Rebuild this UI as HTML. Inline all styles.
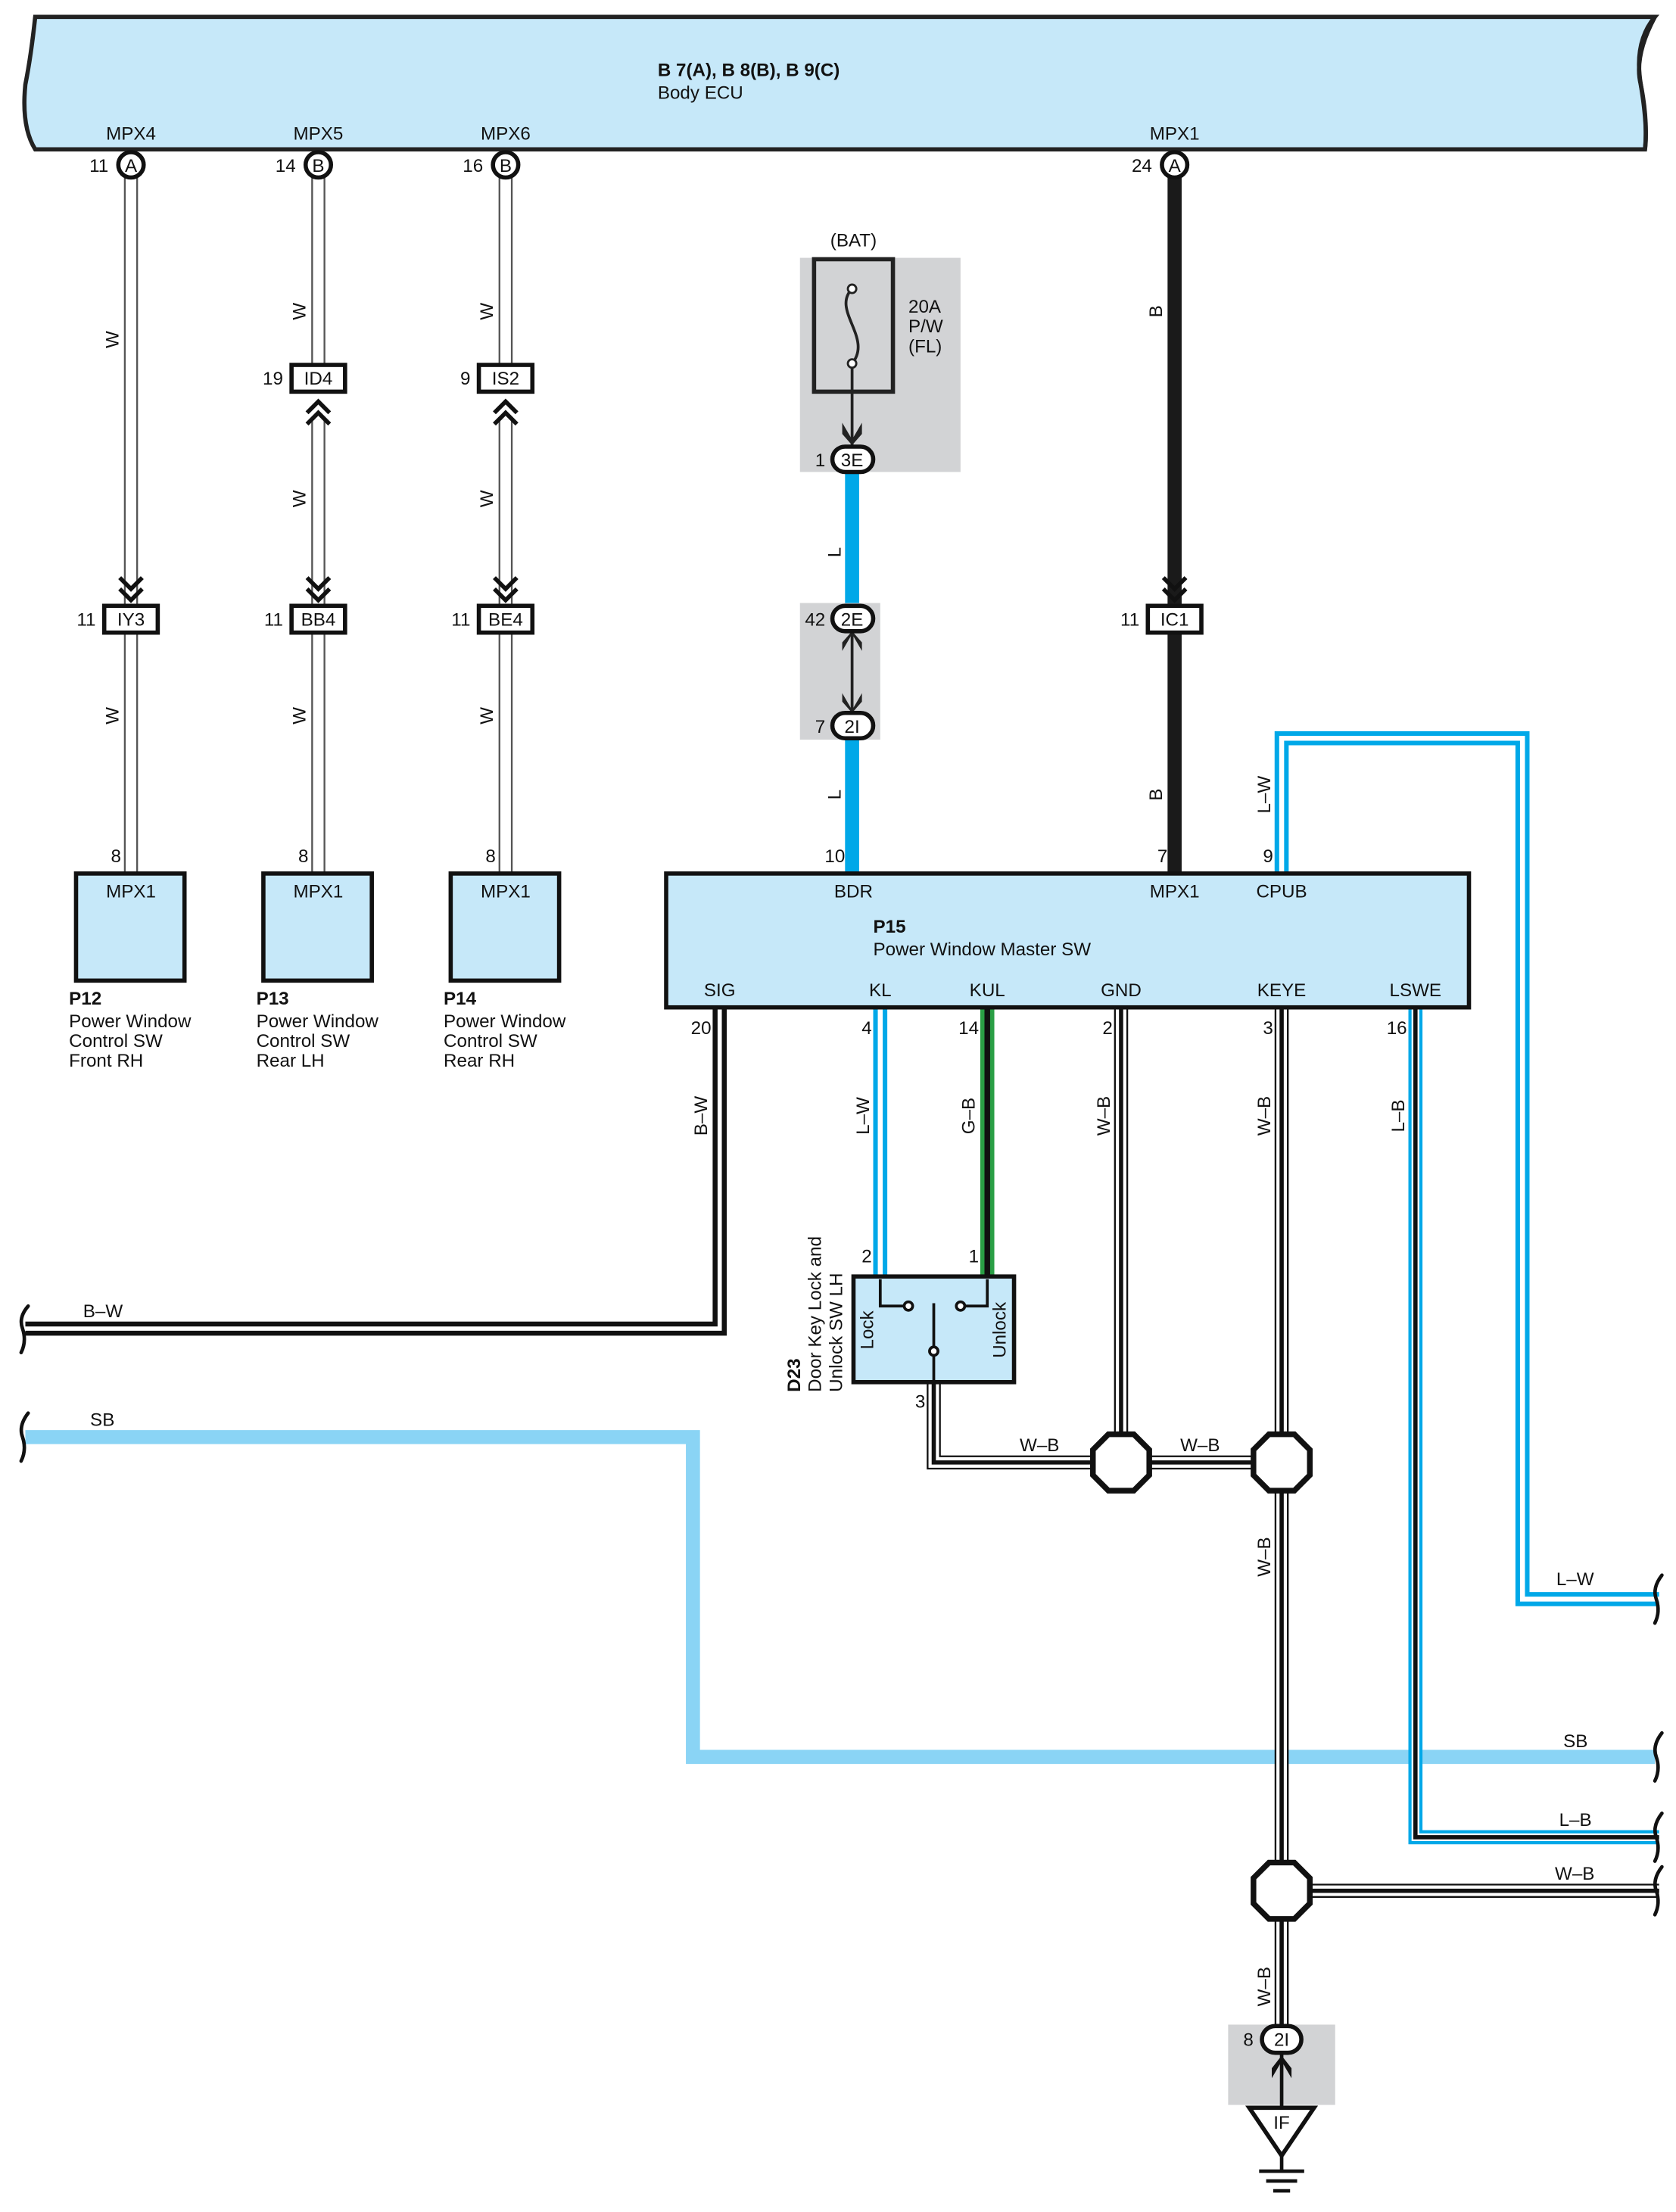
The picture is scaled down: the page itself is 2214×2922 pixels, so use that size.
<!DOCTYPE html>
<html><head><meta charset="utf-8"><style>
html,body{margin:0;padding:0;background:#fff}
svg{display:block}
text{font-family:"Liberation Sans",sans-serif;font-size:13px;fill:#111}
.b{font-weight:bold}
</style></head><body>
<svg width="2214" height="2922" viewBox="0 0 1190 1570" preserveAspectRatio="none" xmlns="http://www.w3.org/2000/svg">
<defs>
<path id="w1" d="M93 126V430M93 449V620"/>
<path id="w2" d="M226 126V259M226 298V430M226 449V620"/>
<path id="w3" d="M359 126V259M359 298V430M359 449V620"/>
<path id="lw" d="M910 620V524H1081V1135H1178"/>
<path id="lb" d="M1005 715V1304H1178"/>
<path id="bw" d="M511 715V943H18"/>
<path id="kl" d="M625 715V908"/>
<path id="kul" d="M701 715V908"/>
<path id="gnd" d="M796 715V1038"/>
<path id="keye" d="M910 715V1445"/>
<path id="sw3" d="M663 981V1038H910"/>
<path id="wb2" d="M910 1342H1178"/>
<g id="chev"><polyline points="-8,-12 0,-4 8,-12" fill="none" stroke="#111" stroke-width="3"/><polyline points="-8,-4 0,4 8,-4" fill="none" stroke="#111" stroke-width="3"/></g>
<g id="chevu"><polyline points="-8,12 0,4 8,12" fill="none" stroke="#111" stroke-width="3"/><polyline points="-8,4 0,-4 8,4" fill="none" stroke="#111" stroke-width="3"/></g>
<polygon id="oct" points="-9,-20 9,-20 20,-9 20,9 9,20 -9,20 -20,9 -20,-9" fill="#fff" stroke="#111" stroke-width="4"/>
</defs>

<!-- ECU -->
<path d="M25 12H1175Q1160 30 1165 60Q1170 90 1168 106H25Q15 90 18 60Q22 40 25 12Z" fill="#c6e8f9" stroke="#222" stroke-width="3"/>
<path d="M1175 12Q1160 40 1165 60Q1170 85 1168 106" fill="none" stroke="#222" stroke-width="3"/>
<text x="467" y="54" class="b">B 7(A), B 8(B), B 9(C)</text>
<text x="467" y="70">Body ECU</text>
<text x="93" y="99" text-anchor="middle">MPX4</text>
<text x="226" y="99" text-anchor="middle">MPX5</text>
<text x="359" y="99" text-anchor="middle">MPX6</text>
<text x="834" y="99" text-anchor="middle">MPX1</text>

<!-- W wires -->
<g fill="none">
<use href="#w1" stroke="#555" stroke-width="10"/><use href="#w1" stroke="#fff" stroke-width="7.5"/>
<use href="#w2" stroke="#555" stroke-width="10"/><use href="#w2" stroke="#fff" stroke-width="7.5"/>
<use href="#w3" stroke="#555" stroke-width="10"/><use href="#w3" stroke="#fff" stroke-width="7.5"/>
<path d="M834 126V430M834 449V620" stroke="#1a1a1a" stroke-width="10"/>
<path d="M605 335V430M605 525V620" stroke="#00a8e8" stroke-width="10"/>
<path d="M18 1020H492V1247H1175" stroke="#8ad4f5" stroke-width="10"/>
</g>

<!-- pin circles -->
<g stroke="#111" stroke-width="3" fill="#fff">
<circle cx="93" cy="117" r="9"/><circle cx="226" cy="117" r="9"/><circle cx="359" cy="117" r="9"/><circle cx="834" cy="117" r="9"/>
</g>
<text x="93" y="122" text-anchor="middle">A</text><text x="226" y="122" text-anchor="middle">B</text><text x="359" y="122" text-anchor="middle">B</text><text x="834" y="122" text-anchor="middle">A</text>
<text x="77" y="122" text-anchor="end">11</text><text x="210" y="122" text-anchor="end">14</text><text x="343" y="122" text-anchor="end">16</text><text x="818" y="122" text-anchor="end">24</text>

<!-- chevrons -->
<use href="#chev" x="93" y="422"/><use href="#chev" x="226" y="422"/><use href="#chev" x="359" y="422"/><use href="#chev" x="834" y="422"/>
<use href="#chevu" x="226" y="289"/><use href="#chevu" x="359" y="289"/>

<!-- inline connector boxes -->
<g stroke="#111" stroke-width="3" fill="#fff">
<rect x="74" y="430" width="38" height="19"/><rect x="207" y="430" width="38" height="19"/><rect x="340" y="430" width="38" height="19"/><rect x="815" y="430" width="38" height="19"/>
<rect x="207" y="259" width="38" height="19"/><rect x="340" y="259" width="38" height="19"/>
</g>
<text x="93" y="444" text-anchor="middle">IY3</text><text x="226" y="444" text-anchor="middle">BB4</text><text x="359" y="444" text-anchor="middle">BE4</text><text x="834" y="444" text-anchor="middle">IC1</text>
<text x="226" y="273" text-anchor="middle">ID4</text><text x="359" y="273" text-anchor="middle">IS2</text>
<text x="68" y="444" text-anchor="end">11</text><text x="201" y="444" text-anchor="end">11</text><text x="334" y="444" text-anchor="end">11</text><text x="809" y="444" text-anchor="end">11</text>
<text x="201" y="273" text-anchor="end">19</text><text x="334" y="273" text-anchor="end">9</text>

<!-- wire labels rotated -->
<g>
<text transform="translate(84,241) rotate(-90)" text-anchor="middle">W</text>
<text transform="translate(217,221) rotate(-90)" text-anchor="middle">W</text>
<text transform="translate(350,221) rotate(-90)" text-anchor="middle">W</text>
<text transform="translate(217,354) rotate(-90)" text-anchor="middle">W</text>
<text transform="translate(350,354) rotate(-90)" text-anchor="middle">W</text>
<text transform="translate(84,508) rotate(-90)" text-anchor="middle">W</text>
<text transform="translate(217,508) rotate(-90)" text-anchor="middle">W</text>
<text transform="translate(350,508) rotate(-90)" text-anchor="middle">W</text>
<text transform="translate(825,221) rotate(-90)" text-anchor="middle">B</text>
<text transform="translate(825,564) rotate(-90)" text-anchor="middle">B</text>
<text transform="translate(597,392) rotate(-90)" text-anchor="middle">L</text>
<text transform="translate(597,564) rotate(-90)" text-anchor="middle">L</text>
<text transform="translate(902,564) rotate(-90)" text-anchor="middle">L–W</text>
<text transform="translate(502,792) rotate(-90)" text-anchor="middle">B–W</text>
<text transform="translate(617,792) rotate(-90)" text-anchor="middle">L–W</text>
<text transform="translate(692,792) rotate(-90)" text-anchor="middle">G–B</text>
<text transform="translate(788,792) rotate(-90)" text-anchor="middle">W–B</text>
<text transform="translate(902,792) rotate(-90)" text-anchor="middle">W–B</text>
<text transform="translate(997,792) rotate(-90)" text-anchor="middle">L–B</text>
<text transform="translate(902,1105) rotate(-90)" text-anchor="middle">W–B</text>
<text transform="translate(902,1410) rotate(-90)" text-anchor="middle">W–B</text>
</g>
<text x="86" y="612" text-anchor="end">8</text><text x="219" y="612" text-anchor="end">8</text><text x="352" y="612" text-anchor="end">8</text>

<!-- P12-14 -->
<g stroke="#111" stroke-width="3" fill="#c6e8f9">
<rect x="54" y="620" width="77" height="76"/><rect x="187" y="620" width="77" height="76"/><rect x="320" y="620" width="77" height="76"/>
</g>
<text x="93" y="637" text-anchor="middle">MPX1</text><text x="226" y="637" text-anchor="middle">MPX1</text><text x="359" y="637" text-anchor="middle">MPX1</text>
<text x="49" y="713" class="b">P12</text><text x="49" y="729">Power Window</text><text x="49" y="743">Control SW</text><text x="49" y="757">Front RH</text>
<text x="182" y="713" class="b">P13</text><text x="182" y="729">Power Window</text><text x="182" y="743">Control SW</text><text x="182" y="757">Rear LH</text>
<text x="315" y="713" class="b">P14</text><text x="315" y="729">Power Window</text><text x="315" y="743">Control SW</text><text x="315" y="757">Rear RH</text>

<!-- fuse -->
<rect x="568" y="183" width="114" height="152" fill="#d2d3d5"/>
<rect x="578" y="184" width="56" height="94" fill="none" stroke="#222" stroke-width="3"/>
<path d="M605 205C590 220 620 240 605 258" fill="none" stroke="#222" stroke-width="2"/>
<circle cx="605" cy="205" r="3" fill="#fff" stroke="#222" stroke-width="1.5"/><circle cx="605" cy="258" r="3" fill="#fff" stroke="#222" stroke-width="1.5"/>
<path d="M605 261V318" stroke="#222" stroke-width="2"/>
<path d="M598 300L605 312L612 300L612 308L605 316L598 308Z" fill="#222"/>
<text x="606" y="175" text-anchor="middle">(BAT)</text>
<text x="645" y="222">20A</text><text x="645" y="236">P/W</text><text x="645" y="250">(FL)</text>
<rect x="568" y="428" width="57" height="97" fill="#d2d3d5"/>
<path d="M605 440V515" stroke="#222" stroke-width="2"/>
<path d="M598 462L605 450L612 462L612 456L605 448L598 456Z" fill="#222"/>
<path d="M598 492L605 504L612 492L612 498L605 506L598 498Z" fill="#222"/>
<g stroke="#111" stroke-width="3" fill="#fff">
<rect x="591" y="317" width="29" height="18" rx="9"/><rect x="591" y="430" width="29" height="18" rx="9"/><rect x="591" y="506" width="29" height="18" rx="9"/>
</g>
<text x="605" y="331" text-anchor="middle">3E</text><text x="605" y="444" text-anchor="middle">2E</text><text x="605" y="520" text-anchor="middle">2I</text>
<text x="586" y="331" text-anchor="end">1</text><text x="586" y="444" text-anchor="end">42</text><text x="586" y="520" text-anchor="end">7</text>

<!-- lower wires -->
<g fill="none">
<use href="#lw" stroke="#00a8e8" stroke-width="10"/><use href="#lw" stroke="#fff" stroke-width="3.5"/>
<use href="#lb" stroke="#00a8e8" stroke-width="10"/><use href="#lb" stroke="#fff" stroke-width="5.5"/><use href="#lb" stroke="#111" stroke-width="3"/>
<use href="#bw" stroke="#111" stroke-width="10"/><use href="#bw" stroke="#fff" stroke-width="3"/>
<use href="#kl" stroke="#00a8e8" stroke-width="10"/><use href="#kl" stroke="#fff" stroke-width="3.5"/>
<use href="#kul" stroke="#2a9f45" stroke-width="10"/><use href="#kul" stroke="#111" stroke-width="4"/>
<use href="#gnd" stroke="#111" stroke-width="10"/><use href="#gnd" stroke="#fff" stroke-width="7.5"/><use href="#gnd" stroke="#111" stroke-width="3"/>
<use href="#keye" stroke="#111" stroke-width="10"/><use href="#keye" stroke="#fff" stroke-width="7.5"/><use href="#keye" stroke="#111" stroke-width="3"/>
<use href="#sw3" stroke="#111" stroke-width="10"/><use href="#sw3" stroke="#fff" stroke-width="7.5"/><use href="#sw3" stroke="#111" stroke-width="3"/>
<use href="#wb2" stroke="#111" stroke-width="10"/><use href="#wb2" stroke="#fff" stroke-width="7.5"/><use href="#wb2" stroke="#111" stroke-width="3"/>
</g>
<text x="600" y="612" text-anchor="end">10</text><text x="829" y="612" text-anchor="end">7</text><text x="904" y="612" text-anchor="end">9</text>

<!-- P15 -->
<rect x="473" y="620" width="570" height="95" fill="#c6e8f9" stroke="#111" stroke-width="3"/>
<text x="606" y="637" text-anchor="middle">BDR</text><text x="834" y="637" text-anchor="middle">MPX1</text><text x="910" y="637" text-anchor="middle">CPUB</text>
<text x="620" y="662" class="b">P15</text><text x="620" y="678">Power Window Master SW</text>
<text x="511" y="707" text-anchor="middle">SIG</text><text x="625" y="707" text-anchor="middle">KL</text><text x="701" y="707" text-anchor="middle">KUL</text><text x="796" y="707" text-anchor="middle">GND</text><text x="910" y="707" text-anchor="middle">KEYE</text><text x="1005" y="707" text-anchor="middle">LSWE</text>
<text x="505" y="734" text-anchor="end">20</text><text x="619" y="734" text-anchor="end">4</text><text x="695" y="734" text-anchor="end">14</text><text x="790" y="734" text-anchor="end">2</text><text x="904" y="734" text-anchor="end">3</text><text x="999" y="734" text-anchor="end">16</text>
<text x="619" y="896" text-anchor="end">2</text><text x="695" y="896" text-anchor="end">1</text><text x="657" y="999" text-anchor="end">3</text>

<!-- D23 switch -->
<rect x="606" y="906" width="114" height="75" fill="#c6e8f9" stroke="#111" stroke-width="3"/>
<path d="M625 908V927H642M701 908V927H685M663 925V959M663 959V981" fill="none" stroke="#111" stroke-width="2"/>
<circle cx="645" cy="927" r="3" fill="#fff" stroke="#111" stroke-width="2"/><circle cx="682" cy="927" r="3" fill="#fff" stroke="#111" stroke-width="2"/><circle cx="663" cy="959" r="3" fill="#fff" stroke="#111" stroke-width="2"/>
<text transform="translate(620,944) rotate(-90)" text-anchor="middle">Lock</text>
<text transform="translate(714,944) rotate(-90)" text-anchor="middle">Unlock</text>
<text transform="translate(568,988) rotate(-90)" class="b">D23</text>
<text transform="translate(583,988) rotate(-90)">Door Key Lock and</text>
<text transform="translate(598,988) rotate(-90)">Unlock SW LH</text>

<!-- octagons -->
<use href="#oct" x="796" y="1038"/><use href="#oct" x="910" y="1038"/><use href="#oct" x="910" y="1342"/>

<!-- horizontal labels -->
<text x="59" y="935">B–W</text><text x="64" y="1012">SB</text>
<text x="724" y="1030">W–B</text><text x="838" y="1030">W–B</text>
<text x="1105" y="1125">L–W</text><text x="1110" y="1240">SB</text><text x="1107" y="1296">L–B</text><text x="1104" y="1334">W–B</text>

<!-- wavy breaks -->
<g fill="none" stroke="#111" stroke-width="2.5" stroke-linecap="round">
<path d="M20 927Q13 935 16 943Q19 952 15 960"/>
<path d="M20 1003Q13 1012 16 1020Q19 1029 15 1037"/>
<path d="M1180 1118Q1173 1127 1176 1135Q1179 1144 1175 1152"/>
<path d="M1180 1230Q1173 1239 1176 1247Q1179 1256 1175 1264"/>
<path d="M1180 1287Q1173 1296 1176 1304Q1179 1313 1175 1321"/>
<path d="M1180 1325Q1173 1334 1176 1342Q1179 1351 1175 1359"/>
</g>

<!-- ground -->
<rect x="872" y="1437" width="76" height="57" fill="#d2d3d5"/>
<path d="M910 1458V1496" stroke="#111" stroke-width="2.5"/>
<path d="M903 1475L910 1463L917 1475L917 1468L910 1459L903 1468Z" fill="#111"/>
<rect x="896" y="1438" width="28" height="19" rx="9.5" fill="#fff" stroke="#111" stroke-width="3"/>
<text x="910" y="1452" text-anchor="middle">2I</text>
<text x="890" y="1452" text-anchor="end">8</text>
<polygon points="887,1496 933,1496 910,1530" fill="#fff" stroke="#111" stroke-width="3"/>
<text x="910" y="1511" text-anchor="middle">IF</text>
<path d="M910 1530V1541M894 1541H926M899 1548H921M904 1555H916" stroke="#111" stroke-width="2.5" fill="none"/>
</svg>
</body></html>
